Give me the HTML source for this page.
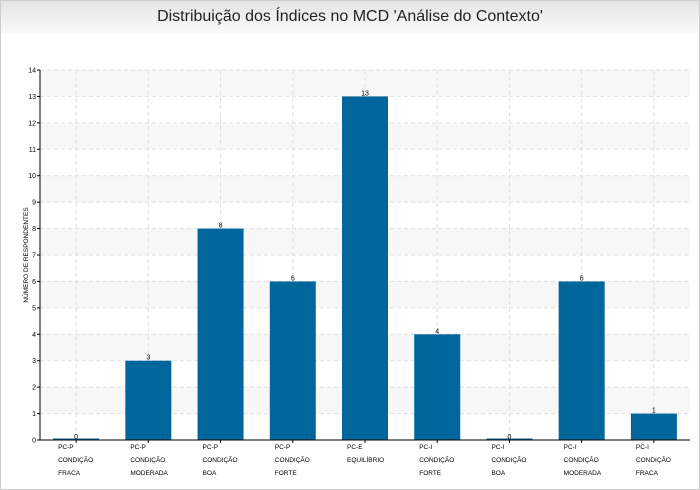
<!DOCTYPE html>
<html><head><meta charset="utf-8"><style>
body{margin:0;width:700px;height:490px;overflow:hidden;background:#fff;font-family:"Liberation Sans",sans-serif}
#wrap{position:absolute;left:0;top:0;width:698px;height:488px;border:1px solid #ccc;background:#fff}
#hdr{position:absolute;left:0;top:0;width:698px;height:32px;background:linear-gradient(#e4e4e4,#fafafa)}
</style></head><body>
<div id="wrap">
<div id="hdr"></div>
<svg id="svg" width="700" height="490" style="position:absolute;left:-1px;top:-1px"></svg>
</div>
<script>
const categories=[["PC-P","CONDIÇÃO","FRACA"],["PC-P","CONDIÇÃO","MODERADA"],["PC-P","CONDIÇÃO","BOA"],["PC-P","CONDIÇÃO","FORTE"],["PC-E","EQUILÍBRIO"],["PC-I","CONDIÇÃO","FORTE"],["PC-I","CONDIÇÃO","BOA"],["PC-I","CONDIÇÃO","MODERADA"],["PC-I","CONDIÇÃO","FRACA"]];
const values=[0,3,8,6,13,4,0,6,1];
const yTicks=[0,1,2,3,4,5,6,7,8,9,10,11,12,13,14];
const svg=document.getElementById('svg');const NS='http://www.w3.org/2000/svg';
const L=40,R=690,T=70,B=440,yMax=14;
const band=(R-L)/categories.length;
const x=i=>L+band*(i+0.5);
const y=v=>B-(B-T)*v/yMax;
function mk(tag,a,p){const e=document.createElementNS(NS,tag);for(const k in a)e.setAttribute(k,a[k]);(p||svg).appendChild(e);return e;}
const t=mk('text',{x:350,y:21,'text-anchor':'middle','font-size':16,fill:'#222'});


t.textContent="Distribuição dos Índices no MCD 'Análise do Contexto'";
for(let v=0;v<yMax;v++){if(v%2===1){const r=mk('rect',{x:L,y:y(v+1),width:R-L,height:y(v)-y(v+1),fill:'#f7f7f7'});

}}
yTicks.forEach(v=>{if(v>0){const g=mk('line',{x1:L,x2:R,y1:y(v),y2:y(v),stroke:'#e0e0e0','stroke-dasharray':'4,3'});

}
mk('line',{x1:L-3,x2:L,y1:y(v),y2:y(v),stroke:'#000'});
const l=mk('text',{x:L-4,y:y(v)+2.5,'text-anchor':'end','font-size':7,fill:'#000'});


l.textContent=v;});
categories.forEach((c,i)=>{const g=mk('line',{x1:x(i),x2:x(i),y1:T,y2:B,stroke:'#e0e0e0','stroke-dasharray':'4,3'});

});
values.forEach((v,i)=>{const h=Math.max(y(0)-y(v),1.5);
const r=mk('rect',{x:x(i)-23,y:y(0)-h,width:46,height:h,fill:'#00669c'});


const l=mk('text',{x:x(i),y:y(v)-1,'text-anchor':'middle','font-size':7,fill:'#000'});


l.textContent=v;});
mk('line',{x1:L,x2:L,y1:T,y2:B,stroke:'#000'});
mk('line',{x1:L,x2:R,y1:B,y2:B,stroke:'#000'});
categories.forEach((c,i)=>{mk('line',{x1:x(i),x2:x(i),y1:B,y2:B+3,stroke:'#000'});
c.forEach((s,j)=>{const l=mk('text',{x:x(i)-18,y:449+j*13,'font-size':6.5,fill:'#000'});


l.textContent=s;});});
const yt=mk('text',{x:0,y:0,transform:'translate(28,255) rotate(-90)','text-anchor':'middle','font-size':6.5,fill:'#000'});


yt.textContent='NÚMERO DE RESPONDENTES';
</script></body></html>
